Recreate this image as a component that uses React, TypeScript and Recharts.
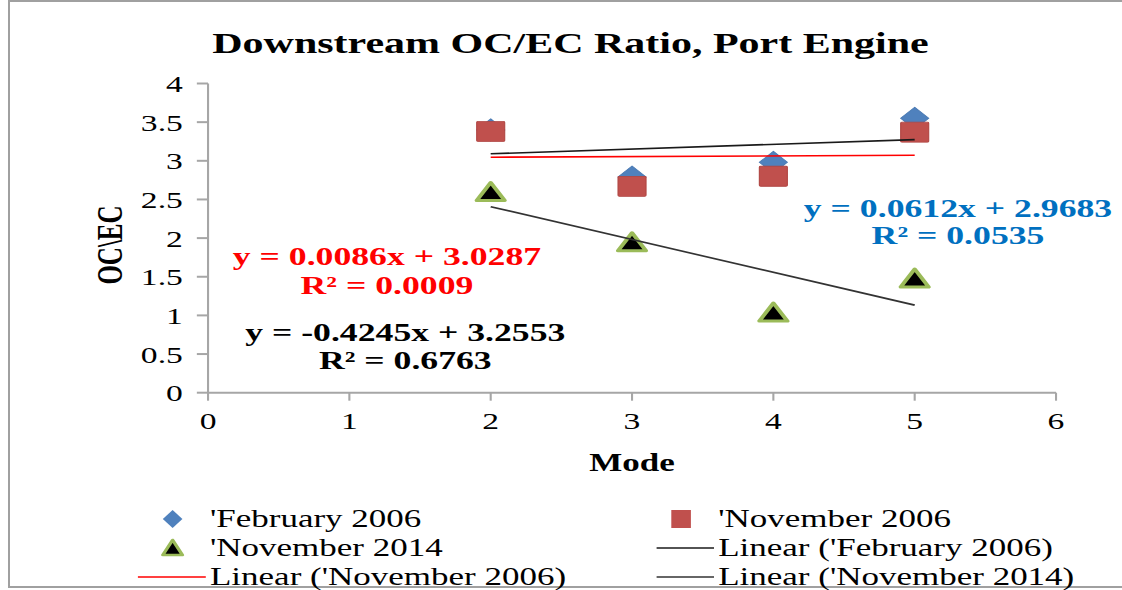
import React from 'react';
import { ScatterChart, Scatter, XAxis, YAxis, Legend } from 'recharts';

// ---------- data ----------
const modes = [2, 3, 4, 5];
const feb2006 = [3.4, 2.79, 2.98, 3.55];
const nov2006 = [3.38, 2.67, 2.8, 3.37];
const nov2014 = [2.59, 1.94, 1.03, 1.47];
const seriesNames = ["'February 2006", "'November 2006", "'November 2014"];
const trendSlopes = [0.0612, 0.0086, -0.4245];
const trendIntercepts = [2.9683, 3.0287, 3.2553];
const trendR2 = ['0.0535', '0.0009', '0.6763'];
const xTicks = [0, 1, 2, 3, 4, 5, 6];
const yTicks = [0, 0.5, 1, 1.5, 2, 2.5, 3, 3.5, 4];
const title = 'Downstream OC/EC Ratio, Port Engine';
const xLabel = 'Mode';
const yLabel = 'OC\\EC';

// ---------- styling ----------
const FONT = '"Liberation Serif", "Times New Roman", serif';
const SX = 1.4; // horizontal stretch of the original picture
const W = 801;
const H = 590;
const AXIS = '#a6a6a6';
const BLUE = '#4f81bd';
const RED = '#c0504d';
const GREEN = '#9bbb59';
const trendColors = ['#1a1a1a', '#ff0000', '#333333'];
const eqColors = ['#0070c0', '#ff0000', '#000000'];

const toPoints = (ys: number[]) => modes.map((x, i) => ({ x, y: ys[i] }));
const trendPoints = (k: number) => {
  const x0 = Math.min(...modes);
  const x1 = Math.max(...modes);
  return [x0, x1].map((x) => ({ x, y: trendSlopes[k] * x + trendIntercepts[k] }));
};
const eqText = (k: number) => {
  const s = trendSlopes[k].toFixed(4);
  return `y = ${s}x + ${trendIntercepts[k].toFixed(4)}`;
};

const Diamond = (p: any) => {
  const { cx, cy } = p;
  const w = 10, h = 11;
  return (
    <polygon
      points={`${cx},${cy - h} ${cx + w},${cy} ${cx},${cy + h} ${cx - w},${cy}`}
      fill={BLUE}
      stroke="#4a7ab3"
      strokeWidth={0.8}
    />
  );
};
const Square = (p: any) => {
  const { cx, cy } = p;
  const s = 10;
  return <rect x={cx - s} y={cy - s} width={2 * s} height={2 * s} rx={1} fill={RED} stroke="#b04643" strokeWidth={0.8} />;
};
const Triangle = (p: any) => {
  const { cx, cy } = p;
  return (
    <polygon
      points={`${cx},${cy - 10} ${cx + 10},${cy + 8} ${cx - 10},${cy + 8}`}
      fill="#000"
      stroke={GREEN}
      strokeWidth={3}
      strokeLinejoin="round"
    />
  );
};
const NoShape = () => <g />;

const legendRows = [
  [
    { kind: 'diamond', label: seriesNames[0] },
    { kind: 'square', label: seriesNames[1] },
  ],
  [
    { kind: 'triangle', label: seriesNames[2] },
    { kind: 'line0', label: `Linear (${seriesNames[0]})` },
  ],
  [
    { kind: 'line1', label: `Linear (${seriesNames[1]})` },
    { kind: 'line2', label: `Linear (${seriesNames[2]})` },
  ],
];
const colMarkerX = [123.3, 486.5];
const colLine = [
  [98.5, 147],
  [469, 510],
];
const colTextX = [150, 513];
const rowCenterY = [24, 53, 82];

const LegendContent = () => (
  <svg width={W} height={95} style={{ display: 'block', overflow: 'visible' }}>
    {legendRows.map((row, r) =>
      row.map((it, c) => {
        const cy = rowCenterY[r];
        const mx = colMarkerX[c];
        let marker: any = null;
        if (it.kind === 'diamond') {
          marker = <polygon points={`${mx},${cy - 9} ${mx + 7},${cy} ${mx},${cy + 9} ${mx - 7},${cy}`} fill={BLUE} />;
        } else if (it.kind === 'square') {
          marker = <rect x={mx - 7} y={cy - 9} width={14} height={18} fill={RED} />;
        } else if (it.kind === 'triangle') {
          marker = (
            <polygon
              points={`${mx},${cy - 8} ${mx + 7},${cy + 7} ${mx - 7},${cy + 7}`}
              fill="#000"
              stroke={GREEN}
              strokeWidth={2.5}
              strokeLinejoin="round"
            />
          );
        } else {
          const k = Number(it.kind.slice(4));
          marker = <line x1={colLine[c][0]} x2={colLine[c][1]} y1={cy} y2={cy} stroke={trendColors[k]} strokeWidth={1.6} />;
        }
        return (
          <g key={`${r}-${c}`}>
            {marker}
            <text x={colTextX[c]} y={cy + 8.5} fontFamily={FONT} fontSize={25} fill="#000">
              {it.label}
            </text>
          </g>
        );
      })
    )}
  </svg>
);

const eqPos = [
  { x: 684.3, y1: 217, y2: 244 },
  { x: 276.4, y1: 265, y2: 294 },
  { x: 289.5, y1: 341, y2: 369 },
];

export default function App() {
  return (
    <div style={{ position: 'absolute', left: 0, top: 0, width: 1122, height: 590, background: '#fff', overflow: 'hidden' }}>
      <div
        style={{
          position: 'absolute',
          left: 8,
          top: 0,
          width: 1114,
          height: 588,
          borderLeft: '2px solid #a0a0a0',
          borderTop: '2px solid #a0a0a0',
          borderBottom: '2px solid #a0a0a0',
          boxSizing: 'border-box',
        }}
      />
      <div style={{ position: 'absolute', left: 0, top: 0, width: W, height: H, transform: `scaleX(${SX})`, transformOrigin: '0 0' }}>
        <ScatterChart width={W} height={H} margin={{ top: 83.5, right: 46.7, bottom: 157.3, left: 0 }}>
          <XAxis
            type="number"
            dataKey="x"
            domain={[0, 6]}
            ticks={xTicks}
            interval={0}
            height={40}
            axisLine={{ stroke: AXIS, strokeWidth: 2 }}
            tickLine={{ stroke: AXIS, strokeWidth: 1.5 }}
            tickSize={8}
            tickMargin={11}
            tick={{ fill: '#000', fontSize: 24, fontFamily: FONT }}
          />
          <YAxis
            type="number"
            dataKey="y"
            domain={[0, 4]}
            ticks={yTicks}
            interval={0}
            width={148.6}
            axisLine={{ stroke: AXIS, strokeWidth: 1.5 }}
            tickLine={{ stroke: AXIS, strokeWidth: 2 }}
            tickSize={8}
            tickMargin={10}
            tick={{ fill: '#000', fontSize: 24, fontFamily: FONT }}
          />
          <Legend
            layout="horizontal"
            verticalAlign="middle"
            align="center"
            wrapperStyle={{ top: 495, left: 0, width: W, height: 95 }}
            content={<LegendContent />}
          />
          <Scatter name={seriesNames[0]} data={toPoints(feb2006)} shape={Diamond} isAnimationActive={false} />
          <Scatter name={seriesNames[1]} data={toPoints(nov2006)} shape={Square} isAnimationActive={false} />
          <Scatter name={seriesNames[2]} data={toPoints(nov2014)} shape={Triangle} isAnimationActive={false} />
          {[0, 1, 2].map((k) => (
            <Scatter
              key={k}
              name={`Linear (${seriesNames[k]})`}
              data={trendPoints(k)}
              line={{ stroke: trendColors[k], strokeWidth: 1.6 }}
              shape={NoShape}
              legendType="none"
              isAnimationActive={false}
            />
          ))}
        </ScatterChart>
        <svg width={W} height={H} style={{ position: 'absolute', left: 0, top: 0, pointerEvents: 'none' }}>
          <text x={407.5} y={53} textAnchor="middle" fontFamily={FONT} fontWeight="bold" fontSize={30} fill="#000">
            {title}
          </text>
          <text
            x={79}
            y={245}
            textAnchor="middle"
            dominantBaseline="central"
            transform="rotate(-90 79 245)"
            fontFamily={FONT}
            fontWeight="bold"
            fontSize={25}
            fill="#000"
          >
            {yLabel}
          </text>
          <text x={451.4} y={471} textAnchor="middle" fontFamily={FONT} fontWeight="bold" fontSize={25} fill="#000">
            {xLabel}
          </text>
          {eqPos.map((p, k) => (
            <g key={k} fontFamily={FONT} fontWeight="bold" fontSize={25.5} fill={eqColors[k]} textAnchor="middle">
              <text x={p.x} y={p.y1}>{eqText(k)}</text>
              <text x={p.x} y={p.y2}>{`R² = ${trendR2[k]}`}</text>
            </g>
          ))}
        </svg>
      </div>
    </div>
  );
}
